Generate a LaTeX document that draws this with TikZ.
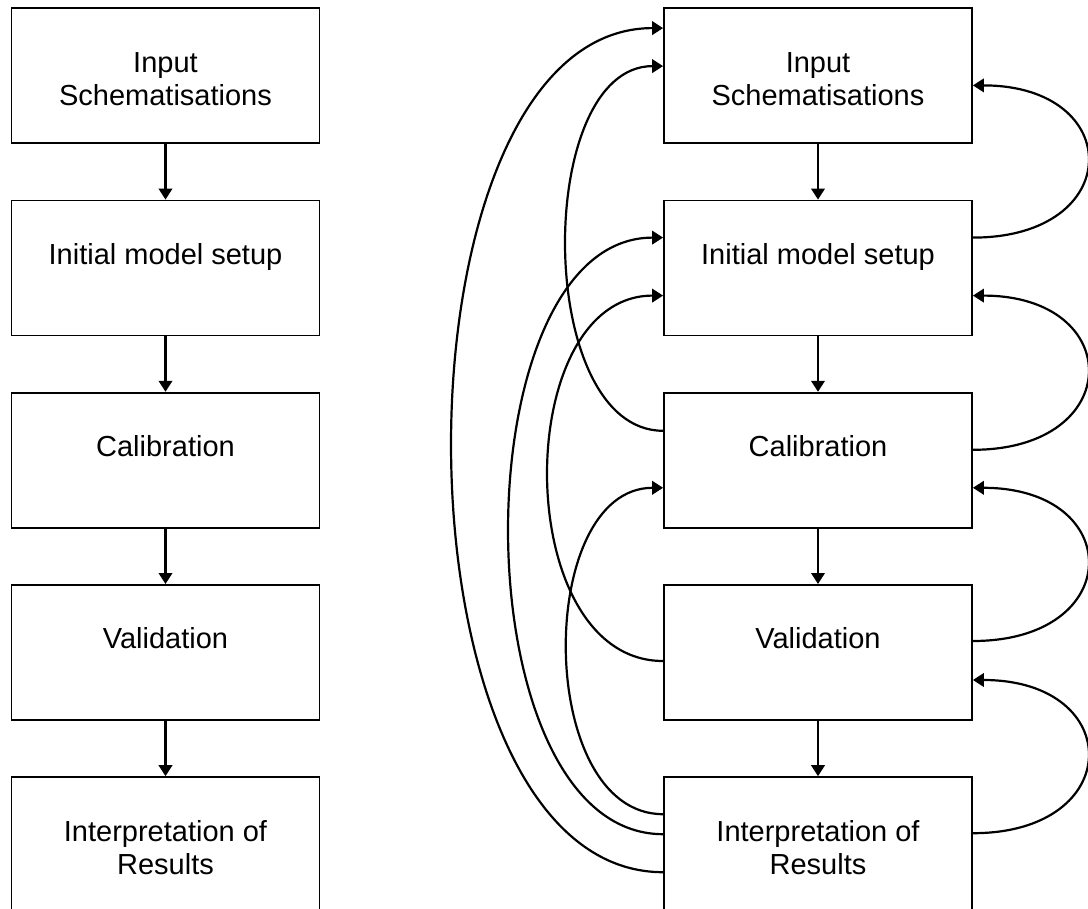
\documentclass[tikz,border=0pt]{standalone}
\usepackage{fontspec}
\setmainfont{Liberation Sans}
\usetikzlibrary{arrows.meta}

\begin{document}
\begin{tikzpicture}[x=1pt, y=-1pt, >={Triangle[width=13.5pt,length=11pt]}, line width=2.2pt]
		\def\rowsep{192.2}
		\tikzstyle{stage}=[draw,line width=1.8pt,minimum width=308pt,minimum height=135pt,inner sep=0pt,font=\fontsize{29}{33}\selectfont]
		\newcommand{\stagetext}[1]{\parbox[c][135pt][t]{300pt}{\centering\rule{0pt}{64pt}#1}}
		\useasboundingbox (0,0) rectangle (1088,909);
		
		% plain sequence
		\foreach \txt [count=\y] in {{Input\\Schematisations},{Initial model setup},{Calibration},{Validation},{Interpretation of\\Results}}
		\node[stage](l-\y) at (165.5, {75.8+\rowsep*(\y-1)}) {\stagetext{\txt}};
		
		% same sequence with feedback
		\foreach \txt [count=\y] in {{Input\\Schematisations},{Initial model setup},{Calibration},{Validation},{Interpretation of\\Results}}
		\node[stage](r-\y) at (818, {75.8+\rowsep*(\y-1)}) {\stagetext{\txt}};
		
		\foreach \y/\z in {1/2,2/3,3/4,4/5}
		\path[->] (l-\y) edge (l-\z)
		(r-\y) edge (r-\z);
		
		\foreach \y/\z/\a/\b in {2/1/38/78,3/2/58/96,4/3/57/96,5/4/57/96}
		\draw[->] ([yshift=-\a pt]r-\y.north east) .. controls +(153,0) and +(153,0) .. ([yshift=-\b pt]r-\z.north east);
		
		\foreach \y/\z/\a/\b/\d in {5/1/96/20.7/281,3/1/39/58.7/129,5/2/58/38/205,4/2/77/96/153,5/3/38/96/128}
		\draw[->] ([yshift=-\a pt]r-\y.north west) .. controls +(-\d,0) and +(-\d,0) .. ([yshift=-\b pt]r-\z.north west);
		\end{tikzpicture}
\end{document}
